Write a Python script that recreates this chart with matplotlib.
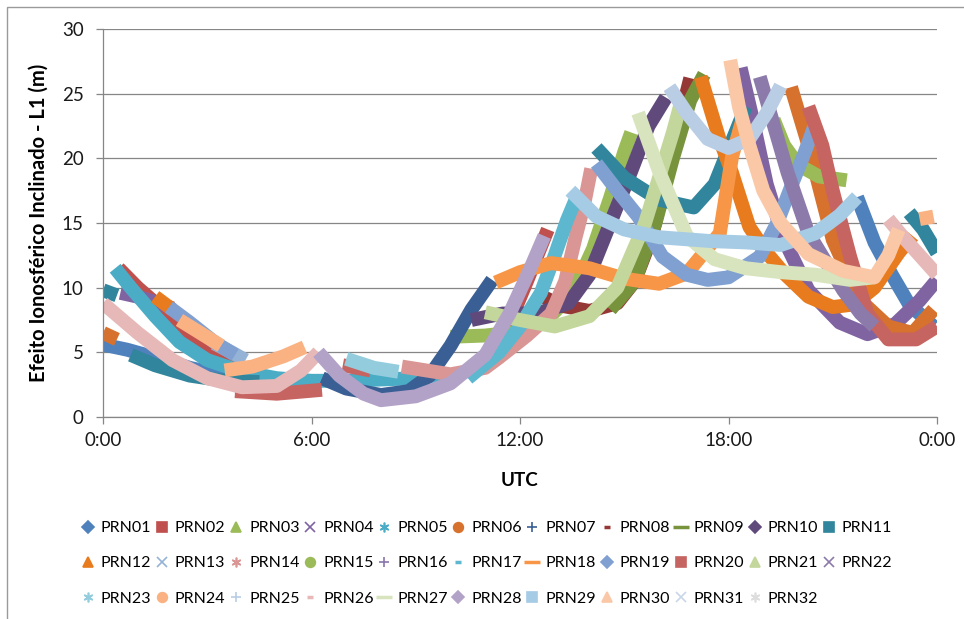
import matplotlib
matplotlib.use("Agg")
import matplotlib.pyplot as plt
from matplotlib.lines import Line2D
from matplotlib.patches import Rectangle

plt.rcParams['font.family'] = ['Lato', 'DejaVu Sans']

# each PRN: list of passes, a pass is (hours UTC, slant ionospheric delay in m)
prn01 = [([0.0, 0.7, 1.5, 2.5, 3.5], [5.6, 5.2, 4.6, 3.8, 3.2]),
         ([21.7, 22.2, 22.7, 23.2, 23.9], [17.0, 13.5, 11.0, 8.7, 7.0])]
prn02 = [([0.45, 1.0, 1.6, 2.2, 2.8, 3.5, 4.0], [11.5, 10.0, 8.6, 7.0, 5.5, 4.3, 3.6]),
         ([11.2, 11.7, 12.2, 12.8], [5.5, 7.3, 10.5, 14.5])]
prn03 = [([10.0, 11.0, 12.0, 12.8, 13.5, 14.1, 14.6, 15.0, 15.2],
          [6.2, 6.3, 6.6, 7.6, 9.5, 13.0, 17.0, 20.5, 22.0])]
prn04 = [([0.5, 1.0, 1.6, 2.0], [9.6, 9.3, 8.8, 8.4]),
         ([18.35, 18.7, 19.1, 19.6, 20.3, 21.2, 22.0, 22.8, 23.5, 24.0],
          [27.0, 23.0, 18.0, 13.7, 9.8, 7.3, 6.4, 7.2, 9.0, 10.6])]
prn05 = [([0.35, 0.8, 1.5, 2.2, 3.0, 4.0, 5.0, 6.0, 7.0, 8.0, 9.0, 9.8],
          [11.5, 10.0, 7.8, 5.8, 4.4, 3.5, 3.0, 2.8, 2.8, 2.9, 3.0, 3.3])]
prn06 = [([0.0, 0.4], [6.5, 6.0]),
         ([19.8, 20.3, 21.0, 21.8, 22.6, 23.3, 23.9], [25.5, 21.0, 13.7, 9.0, 7.0, 6.5, 8.3])]
prn07 = [([6.3, 7.0, 8.0, 8.8, 9.4, 10.0, 10.6, 11.2], [3.0, 2.2, 1.7, 2.0, 3.2, 5.5, 8.3, 10.6])]
prn08 = [([12.5, 13.2, 14.0, 14.8, 15.3, 15.8, 16.2, 16.6, 16.9],
          [9.5, 8.6, 8.2, 8.8, 10.5, 14.0, 18.5, 23.0, 26.2])]
prn09 = [([14.6, 15.3, 15.9, 16.4, 16.9, 17.3], [8.3, 10.5, 15.0, 20.0, 24.5, 26.5])]
prn10 = [([10.6, 11.5, 12.5, 13.4, 14.0, 14.6, 15.2, 15.7, 16.2],
          [7.5, 8.0, 8.0, 8.8, 11.0, 15.0, 19.0, 22.5, 24.7])]
prn11 = [([0.0, 0.4], [9.8, 9.4]),
         ([0.8, 1.5, 2.5, 3.5, 4.5], [4.8, 4.0, 3.2, 2.8, 2.7]),
         ([14.2, 15.0, 16.0, 17.0, 17.6, 18.2, 18.5], [20.8, 18.5, 16.8, 16.2, 18.0, 22.0, 24.0]),
         ([23.2, 23.6, 24.0], [15.8, 14.5, 12.7])]
prn12 = [([1.5, 2.0], [9.3, 8.3]),
         ([17.2, 17.75, 18.1, 18.6, 19.1, 19.6, 20.3, 21.0, 21.6, 22.2, 22.9, 23.3],
          [26.3, 21.4, 18.9, 14.7, 12.7, 11.1, 9.3, 8.5, 8.7, 10.0, 12.7, 14.0])]
prn13 = [([3.2, 3.7, 4.1], [5.7, 5.0, 4.4])]
prn14 = [([8.6, 10.0, 11.0, 11.4, 12.2, 12.9, 13.3, 13.6, 13.85, 14.05],
          [3.9, 3.3, 3.8, 4.6, 6.3, 8.0, 10.5, 13.9, 16.5, 19.2])]
prn15 = [([19.3, 19.6, 20.0, 20.6, 21.4], [23.0, 21.0, 19.5, 18.6, 18.3])]
prn16 = []
prn17 = [([10.5, 11.4, 12.0, 12.6, 13.0, 13.35, 13.6], [3.0, 5.0, 7.0, 9.6, 12.5, 15.2, 16.8])]
prn18 = [([11.3, 12.0, 12.9, 14.0, 15.0, 16.0, 16.8, 17.75, 18.1, 18.4],
          [10.4, 11.2, 11.9, 11.5, 10.7, 10.3, 11.1, 14.2, 20.1, 23.0])]
prn19 = [([1.9, 2.5, 3.2, 3.8], [8.5, 7.3, 5.8, 4.8]),
         ([14.2, 14.8, 15.4, 16.1, 16.8, 17.4, 18.0, 18.9, 19.4, 19.8, 20.2, 20.5],
          [19.6, 17.5, 15.5, 12.4, 11.0, 10.6, 10.8, 12.4, 15.0, 17.8, 20.5, 22.7])]
prn20 = [([3.8, 5.0, 6.3], [2.0, 1.8, 2.1]),
         ([6.9, 7.7], [4.0, 3.6]),
         ([20.3, 20.7, 21.0, 21.5, 22.0, 22.6, 23.4, 24.0], [24.0, 21.0, 17.5, 12.4, 8.0, 6.0, 6.0, 7.0])]
prn21 = [([11.0, 12.0, 13.0, 14.0, 14.8, 15.6, 16.4, 16.6], [8.1, 7.5, 7.0, 7.8, 10.0, 15.0, 22.0, 24.0])]
prn22 = [([18.9, 19.7, 20.3, 21.3, 21.8, 22.2], [26.3, 18.9, 14.2, 9.8, 8.0, 7.0])]
prn23 = [([7.0, 7.8, 8.5], [4.5, 3.8, 3.5])]
prn24 = [([2.2, 2.8, 3.4], [7.5, 6.5, 5.5]),
         ([3.5, 4.3, 5.2, 5.8], [3.6, 3.9, 4.7, 5.4]),
         ([23.5, 23.9], [15.3, 15.5])]
prn25 = [([16.3, 16.8, 17.4, 18.0, 18.6, 19.1, 19.5], [25.5, 23.5, 21.5, 20.8, 21.5, 23.5, 25.6])]
prn26 = [([0.0, 1.0, 2.0, 3.0, 4.0, 5.0, 5.7, 6.2], [8.8, 6.5, 4.4, 3.0, 2.3, 2.4, 3.6, 5.0]),
         ([22.6, 23.0, 23.5, 24.0], [15.3, 14.0, 12.5, 11.0])]
prn27 = [([15.4, 16.0, 16.8, 17.6, 18.5, 19.5, 20.5, 21.5, 22.2],
          [23.5, 19.0, 14.0, 12.2, 11.5, 11.2, 11.0, 10.6, 10.8])]
prn28 = [([6.2, 6.8, 7.5, 8.0, 9.0, 10.0, 11.0, 11.7, 12.3, 12.7],
          [5.0, 3.2, 1.8, 1.3, 1.6, 2.6, 4.8, 8.0, 11.5, 14.0])]
prn29 = [([13.45, 14.2, 15.0, 16.0, 17.5, 18.5, 19.5, 20.5, 21.2, 21.7],
          [17.5, 15.5, 14.5, 13.9, 13.6, 13.5, 13.3, 14.2, 15.6, 17.0])]
prn30 = [([18.05, 18.3, 18.6, 19.0, 19.5, 20.3, 21.3, 22.2, 22.6, 22.9],
          [27.6, 24.0, 21.0, 17.5, 15.0, 12.6, 11.3, 10.8, 12.5, 14.5])]
prn31 = []
prn32 = []

labels = ['PRN%02d' % i for i in range(1, 33)]
colors = ['#4F81BD', '#C0504D', '#9BBB59', '#8064A2', '#4BACC6', '#D7722E',
          '#3A5F95', '#953735', '#77933C', '#604A7B', '#31859C', '#E87B1E',
          '#95B3D7', '#D99694', '#9BBB59', '#8A76AB', '#5DB7CE', '#F79646',
          '#7FA0D0', '#C66461', '#C3D69B', '#8C7BAA', '#93CDDD', '#FAB283',
          '#B9CDE5', '#E6B9B8', '#D7E4BD', '#B3A2C7', '#A6CBE5', '#FAC8A6',
          '#C9D6EA', '#DDDDDD']
markers = ['D', 's', '^', 'x', (6, 2, 0), 'o', '+', '_', '_'] * 4
series = [prn01, prn02, prn03, prn04, prn05, prn06, prn07, prn08, prn09, prn10,
          prn11, prn12, prn13, prn14, prn15, prn16, prn17, prn18, prn19, prn20,
          prn21, prn22, prn23, prn24, prn25, prn26, prn27, prn28, prn29, prn30,
          prn31, prn32]

fig = plt.figure(figsize=(9.64, 6.19), dpi=100)
ax = fig.add_axes([103 / 964, 1 - 417 / 619, 834 / 964, 388 / 619])

for passes, c in zip(series, colors):
    for t, v in passes:
        ax.plot(t, v, color=c, lw=10, solid_capstyle='butt', solid_joinstyle='round')

grid_c = '#868686'
ax.set_xlim(0, 24)
ax.set_ylim(0, 30)
ax.set_xticks([0, 6, 12, 18, 24])
ax.set_xticklabels(['0:00', '6:00', '12:00', '18:00', '0:00'])
ax.set_yticks(range(0, 31, 5))
ax.yaxis.grid(True, color=grid_c, lw=0.9)
ax.set_axisbelow(True)
for s in ['top', 'right']:
    ax.spines[s].set_visible(False)
for s in ['left', 'bottom']:
    ax.spines[s].set_color(grid_c)
    ax.spines[s].set_linewidth(0.9)
ax.tick_params(axis='both', colors=grid_c, length=5, width=0.9, labelsize=13.5, labelcolor='#1a1a1a')
ax.tick_params(axis='y', pad=9)
ax.tick_params(axis='x', pad=6)
ax.set_xlabel('UTC', fontsize=13.5, fontweight='bold', labelpad=16)
ax.set_ylabel('Efeito Ionosférico Inclinado - L1 (m)', fontsize=14.5, fontweight='bold', labelpad=9)

# legend handles, Excel-style markers
handles = []
for i, (c, m) in enumerate(zip(colors, markers)):
    ms = 7
    mew = 1.2
    if m == '_':
        ms = 5 if i % 9 == 7 else 12
        mew = 2.5
    elif m == 'D':
        ms = 6
    handles.append(Line2D([], [], linestyle='none', marker=m, color=c, markersize=ms,
                          markeredgecolor=c, markeredgewidth=mew))

# row-major order for an 11-column legend
ncol, nrow = 11, 3
order = [r * ncol + c for c in range(ncol) for r in range(nrow) if r * ncol + c < 32]
fig.legend([handles[i] for i in order], [labels[i] for i in order],
           loc='upper left', bbox_to_anchor=(81 / 964, 1 - 521 / 619), ncol=ncol,
           frameon=False, fontsize=11.5, handlelength=0.9, handletextpad=0.35,
           columnspacing=0.22, labelspacing=1.32, borderpad=0, borderaxespad=0)

fig.add_artist(Rectangle((7 / 964, -0.02), 1.2, 1 - 7 / 619 + 0.02, transform=fig.transFigure,
                         fill=False, ec='#9a9a9a', lw=1))

fig.savefig('out.png', dpi=100)
